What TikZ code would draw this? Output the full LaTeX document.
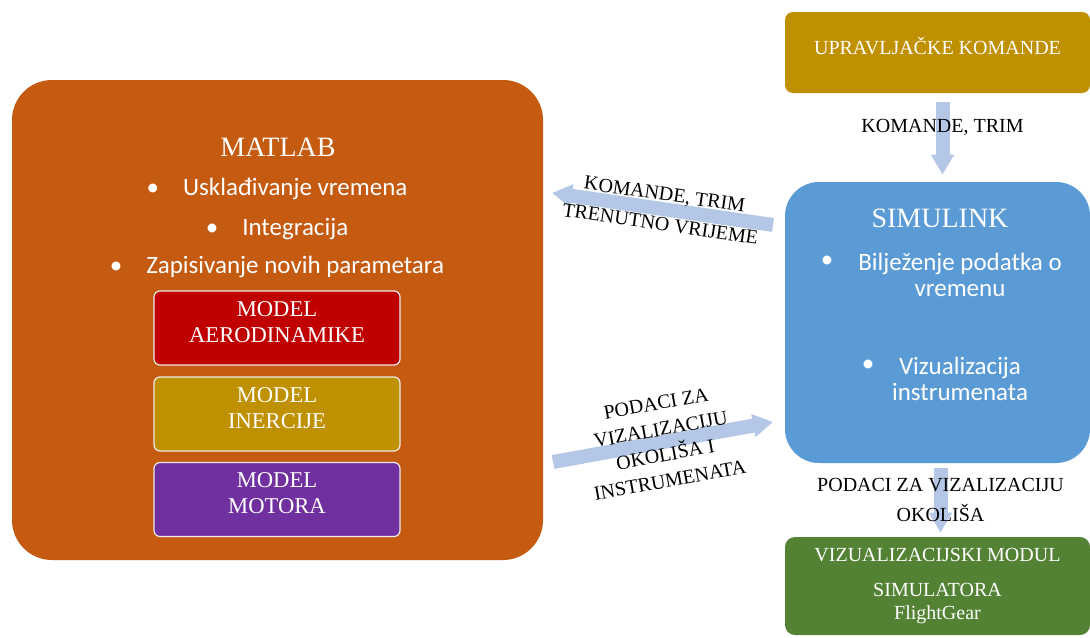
\documentclass[tikz,border=0pt]{standalone}
\usepackage{fontspec}
\setmainfont{Liberation Serif}
\newfontfamily\bulletfont{Carlito}
\usetikzlibrary{arrows.meta}

\definecolor{matorange}{HTML}{C55A11}
\definecolor{modred}{HTML}{C00000}
\definecolor{modgold}{HTML}{BF9000}
\definecolor{modpurple}{HTML}{7030A0}
\definecolor{simblue}{HTML}{5B9BD5}
\definecolor{visgreen}{HTML}{548235}
\definecolor{flowblue}{HTML}{B4C7E7}

\begin{document}
\begin{tikzpicture}[x=0.5pt, y=-0.5pt,
    blockbox/.style={rectangle, inner sep=0pt, text=white},
    modelbox/.style={blockbox, rounded corners=3pt, draw=white!85!gray, line width=0.6pt, text depth=6pt,
        minimum width=123pt, minimum height=37pt, align=center, font=\fontsize{11.3}{13}\selectfont},
    titletext/.style={text=white, font=\fontsize{14}{16}\selectfont},
    bullettext/.style={text=white, font=\bulletfont\fontsize{12.5}{13}\selectfont},
    flow/.style={draw=flowblue, line width=7pt, -{Triangle[length=10pt,width=11pt]}},
    flowlabel/.style={text=black, align=center, font=\fontsize{10}{15}\selectfont}]

    \useasboundingbox (0,0) rectangle (1090,637);

    % big boxes
    \node[blockbox, fill=matorange, rounded corners=20pt, minimum width=265.5pt, minimum height=240pt] (matlab) at (277.5,320) {};
    \node[blockbox, fill=modgold, rounded corners=4pt, minimum width=152.5pt, minimum height=40.5pt,
        text height=7pt, text depth=5pt, font=\fontsize{10}{12}\selectfont] (komande) at (937.5,52.5) {UPRAVLJAČKE KOMANDE};
    \node[blockbox, fill=simblue, rounded corners=17pt, minimum width=152.5pt, minimum height=140.5pt] (simulink) at (937.5,322.5) {};
    \node[blockbox, fill=visgreen, rounded corners=5pt, minimum width=152.5pt, minimum height=49pt, align=center,
        font=\fontsize{10}{11.5}\selectfont] (vizual) at (937.5,586) {VIZUALIZACIJSKI MODUL\\[6pt]SIMULATORA\\FlightGear};

    % MATLAB contents
    \node[titletext] (mtitle) at (278,147) {MATLAB};
    \foreach \y/\txt [count=\i] in {189/Usklađivanje vremena, 229/Integracija, 267/Zapisivanje novih parametara}
        \node[bullettext] (mb\i) at (277,\y) {\textbullet\hspace{12pt}\txt};

    % models
    \foreach \name/\col/\y/\txt in {aero/modred/328/AERODINAMIKE, inercija/modgold/414/INERCIJE, motor/modpurple/499.5/MOTORA}
        \node[modelbox, fill=\col] (\name) at (277,\y) {MODEL\\\txt};

    % SIMULINK contents
    \node[titletext] (stitle) at (940,218) {SIMULINK};
    \node[bullettext] (sb1) at (827,262) {\textbullet};
    \node[bullettext, align=center] (st1) at (960,275) {Bilježenje podatka o\\vremenu};
    \node[bullettext] (sb2) at (868,366) {\textbullet};
    \node[bullettext, align=center] (st2) at (960,379) {Vizualizacija\\instrumenata};

    % vertical flows
    \draw[flow, shorten <=4.5pt, shorten >=3.5pt] ([xshift=2.5pt]komande.south) -- ([xshift=2.5pt]simulink.north)
        node[flowlabel, pos=0.38] {KOMANDE, TRIM};
    \draw[flow, shorten <=2.5pt, shorten >=2pt] ([xshift=1.5pt]simulink.south) -- ([xshift=1.5pt]vizual.north)
        node[flowlabel, midway] {PODACI ZA VIZALIZACIJU\\OKOLIŠA};

    % diagonal flows
    \coordinate (trimS) at (773,225);
    \coordinate (trimM) at (552,193);
    \draw[flow] (trimS) -- (trimM) node[flowlabel, midway, sloped] {KOMANDE, TRIM\\TRENUTNO VRIJEME};

    \coordinate (podM) at (553,462);
    \coordinate (podS) at (773,422);
    \draw[flow] (podM) -- (podS) node[flowlabel, midway, sloped, font=\fontsize{10}{13}\selectfont]
        {PODACI ZA\\VIZALIZACIJU\\OKOLIŠA I\\INSTRUMENATA};
\end{tikzpicture}
\end{document}
